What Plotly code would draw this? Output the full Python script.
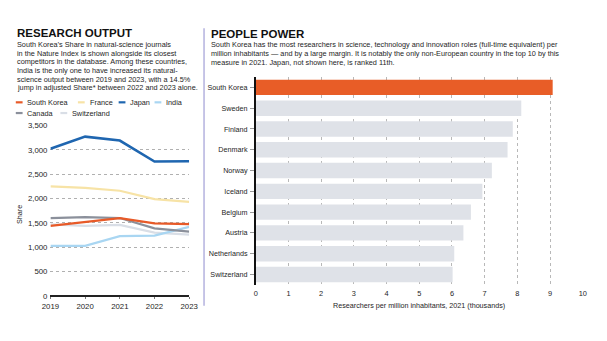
import plotly.graph_objects as go

# ---------------- data ----------------
years = [2019, 2020, 2021, 2022, 2023]
south_korea = [1440, 1520, 1600, 1490, 1475]
france = [2250, 2220, 2160, 1990, 1930]
japan = [3020, 3270, 3190, 2760, 2765]
india = [1030, 1030, 1230, 1240, 1420]
canada = [1600, 1620, 1600, 1390, 1320]
switzerland = [1470, 1440, 1460, 1300, 1260]

series_names = ["South Korea", "France", "Japan", "India", "Canada", "Switzerland"]
series_values = [south_korea, france, japan, india, canada, switzerland]
series_colors = ["#e85a28", "#f7e3a6", "#1f66b0", "#a9d6f2", "#8b909b", "#d9dee6"]
series_widths = [2.2, 2.2, 2.6, 2.2, 2.2, 2.2]

countries = ["South Korea", "Sweden", "Finland", "Denmark", "Norway", "Iceland",
             "Belgium", "Austria", "Netherlands", "Switzerland"]
researchers = [9.08, 8.12, 7.86, 7.70, 7.22, 6.93, 6.58, 6.35, 6.07, 6.02]
bar_colors = ["#e85d27"] + ["#dfe2e8"] * 9

y_ticks = [0, 500, 1000, 1500, 2000, 2500, 3000, 3500]
y_ticktext = ["0", "500", "1,000", "1,500", "2,000", "2,500", "3,000", "3,500"]
x_ticks_bar = list(range(0, 11))

left_title = "RESEARCH OUTPUT"
left_body = [
    "South Korea’s Share in natural-science journals",
    "in the Nature Index is shown alongside its closest",
    "competitors in the database. Among these countries,",
    "India is the only one to have increased its natural-",
    "science output between 2019 and 2023, with a 14.5%",
    "jump in adjusted Share* between 2022 and 2023 alone.",
]
right_title = "PEOPLE POWER"
right_body = [
    "South Korea has the most researchers in science, technology and innovation roles (full-time equivalent) per",
    "million inhabitants — and by a large margin. It is notably the only non-European country in the top 10 by this",
    "measure in 2021. Japan, not shown here, is ranked 11th.",
]

# ---------------- layout helpers ----------------
W, H = 607, 341
def px(x):
    return x / W
def py(y):
    return 1 - y / H

FONT = "Liberation Sans, Arial, sans-serif"
TITLE_FONT = "Liberation Sans, Arial, sans-serif"
TXT = "#1e1e1e"
BODY = 7.3

fig = go.Figure()

order = [5, 3, 4, 1, 2, 0]
for i in order:
    fig.add_trace(go.Scatter(x=years, y=series_values[i], mode="lines", name=series_names[i],
                             line=dict(color=series_colors[i], width=series_widths[i]),
                             xaxis="x", yaxis="y", showlegend=False))

fig.add_trace(go.Bar(x=researchers, y=countries, orientation="h",
                     marker=dict(color=bar_colors, line=dict(width=0)),
                     width=0.74, xaxis="x2", yaxis="y2", showlegend=False))

annotations = []
shapes = []

annotations.append(dict(x=px(6), y=py(30), xref="paper", yref="paper", text="<b>" + left_title + "</b>",
                        showarrow=False, xanchor="left", yanchor="middle",
                        font=dict(family=TITLE_FONT, size=11.5, color="#111111")))
annotations.append(dict(x=px(206), y=py(31), xref="paper", yref="paper", text="<b>" + right_title + "</b>",
                        showarrow=False, xanchor="left", yanchor="middle",
                        font=dict(family=TITLE_FONT, size=11.5, color="#111111")))
for i, line in enumerate(left_body):
    annotations.append(dict(x=px(6), y=py(41.5 + 8.9 * i), xref="paper", yref="paper", text=line,
                            showarrow=False, xanchor="left", yanchor="middle",
                            font=dict(family=FONT, size=BODY, color=TXT)))
for i, line in enumerate(right_body):
    annotations.append(dict(x=px(206), y=py(42 + 8.8 * i), xref="paper", yref="paper", text=line,
                            showarrow=False, xanchor="left", yanchor="middle",
                            font=dict(family=FONT, size=BODY, color=TXT)))

legend_pos = {
    "South Korea": (7, 101), "France": (71, 101), "Japan": (113, 101), "India": (150, 101),
    "Canada": (7, 112), "Switzerland": (53, 112),
}
for name, col in zip(series_names, series_colors):
    lx, ly = legend_pos[name]
    shapes.append(dict(type="line", xref="paper", yref="paper", x0=px(lx), x1=px(lx + 7),
                       y0=py(ly), y1=py(ly), line=dict(color=col, width=2.2)))
    annotations.append(dict(x=px(lx + 10), y=py(ly), xref="paper", yref="paper", text=name,
                            showarrow=False, xanchor="left", yanchor="middle",
                            font=dict(family=FONT, size=BODY, color=TXT)))

annotations.append(dict(x=px(11), y=py(216), xref="paper", yref="paper", text="Share",
                        showarrow=False, textangle=-90, xanchor="center", yanchor="middle",
                        font=dict(family=FONT, size=7.2, color=TXT)))
annotations.append(dict(x=px(423), y=py(309.5), xref="paper", yref="paper",
                        text="Researchers per million inhabitants, 2021 (thousands)",
                        showarrow=False, xanchor="center", yanchor="middle",
                        font=dict(family=FONT, size=7.2, color=TXT)))

shapes.append(dict(type="line", xref="paper", yref="paper", x0=px(201), x1=px(201),
                   y0=py(25), y1=py(310), line=dict(color="#b4b2df", width=1.5)))

fig.update_layout(
    width=W, height=H, margin=dict(l=0, r=0, t=0, b=0),
    paper_bgcolor="white", plot_bgcolor="white",
    showlegend=False,
    annotations=annotations, shapes=shapes,
    font=dict(family=FONT, size=BODY, color=TXT),
    xaxis=dict(domain=[px(42.7), px(185.7)], range=[2019, 2023], tickvals=years,
               showgrid=False, zeroline=False, showline=False,
               ticks="outside", ticklen=2, tickcolor="#777777", tickwidth=0.8,
               tickfont=dict(size=7.8, color=TXT), ticklabelstandoff=1),
    yaxis=dict(domain=[py(300), py(124.7)], range=[0, 3500], tickvals=y_ticks, ticktext=y_ticktext,
               showgrid=True, gridcolor="#b0b0b0", griddash="dot", gridwidth=0.7,
               zeroline=True, zerolinecolor="#222222", zerolinewidth=1.6, showline=False,
               ticks="", tickfont=dict(size=7.8, color=TXT), ticklabelstandoff=2),
    xaxis2=dict(domain=[px(254.3), px(591.3)], range=[0, 10], tickvals=x_ticks_bar,
                showgrid=True, gridcolor="#b8b8b8", griddash="dot", gridwidth=0.7,
                zeroline=False, showline=False, ticks="",
                tickfont=dict(size=7.4, color=TXT), anchor="y2", ticklabelstandoff=3),
    yaxis2=dict(domain=[py(288.5), py(75)], autorange="reversed", anchor="x2",
                showgrid=False, zeroline=False, showline=True, linecolor="#111111", linewidth=1.6,
                ticks="outside", ticklen=4, tickcolor="#999999", tickwidth=0.8,
                tickfont=dict(size=7.2, color=TXT), ticklabelstandoff=1),
)

fig.write_html("out.html", config={"displayModeBar": False},
               post_script="document.body.style.margin='0';document.body.style.padding='0';")
